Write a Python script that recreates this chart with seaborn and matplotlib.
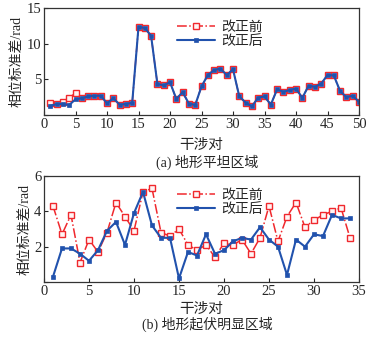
import numpy as np
import pandas as pd
import matplotlib
matplotlib.use("Agg")
import matplotlib.pyplot as plt
import seaborn as sns

# ---- data ----
pairs_a = list(range(1, 51))
before_a = [1.65, 1.6, 1.85, 2.45, 3.05, 2.35, 2.6, 2.7, 2.7, 1.65,
            2.35, 1.45, 1.55, 1.7, 12.35, 12.2, 11.1, 4.35, 4.15, 4.6,
            2.25, 3.2, 1.6, 1.4, 4.0, 5.6, 6.3, 6.5, 5.6, 6.4,
            2.6, 1.75, 1.2, 2.45, 2.6, 1.45, 3.6, 3.25, 3.5, 3.7,
            2.4, 4.1, 3.95, 4.4, 5.6, 5.55, 3.35, 2.5, 2.7, 1.85]
after_a = [1.27, 1.55, 1.55, 1.4, 2.2, 2.35, 2.6, 2.7, 2.7, 1.65,
           2.35, 1.45, 1.55, 1.7, 12.35, 12.2, 11.1, 4.35, 4.15, 4.6,
           2.25, 3.2, 1.6, 1.4, 4.0, 5.6, 6.3, 6.5, 5.6, 6.4,
           2.6, 1.75, 1.2, 2.45, 2.6, 1.45, 3.6, 3.25, 3.5, 3.7,
           2.4, 4.1, 3.95, 4.4, 5.6, 5.55, 3.35, 2.5, 2.7, 1.85]

pairs_b = list(range(1, 35))
before_b = [4.3, 2.7, 3.8, 1.1, 2.4, 1.7, 2.8, 4.5, 3.7, 2.9,
            5.1, 5.3, 2.8, 2.6, 3.0, 2.1, 1.8, 2.1, 1.4, 2.2,
            2.1, 2.4, 1.6, 2.5, 4.3, 2.3, 3.7, 4.5, 3.1, 3.5,
            3.8, 4.0, 4.2, 2.5]
after_b = [0.3, 1.9, 1.9, 1.6, 1.2, 1.8, 2.9, 3.4, 2.1, 3.9,
           5.1, 3.2, 2.5, 2.5, 0.2, 1.7, 1.5, 2.7, 1.6, 1.8,
           2.3, 2.5, 2.4, 3.1, 2.4, 2.0, 0.4, 2.4, 2.0, 2.7,
           2.6, 3.8, 3.6, 3.6]

label_before = "改正前"
label_after = "改正后"
xlabel = "干涉对"
ylabel = "相位标准差/rad"
caption_a = "(a) 地形平坦区域"
caption_b = "(b) 地形起伏明显区域"

sns.set_style("white")
plt.rcParams['font.family'] = ['Liberation Serif', 'Noto Sans CJK SC']
plt.rcParams['axes.unicode_minus'] = False

RED = "#f0282d"
BLUE = "#2152ad"

fig = plt.figure(figsize=(3.81, 3.37), dpi=100)
W, H = 381, 337

def make_ax(top_px, bottom_px):
    left, right = 44, 359
    return fig.add_axes([left / W, 1 - bottom_px / H, (right - left) / W, (bottom_px - top_px) / H])

ax1 = make_ax(8, 115)
ax2 = make_ax(176, 282)

def draw(ax, x, before, after, xlim, ylim, xticks, yticks, ytl, xlpad):
    sns.lineplot(x=x, y=before, ax=ax, color=RED, linestyle="-.", linewidth=1.1,
                 marker="s", markersize=5.0, markerfacecolor="#fff4f4",
                 markeredgecolor=RED, markeredgewidth=1.0, label=label_before)
    sns.lineplot(x=x, y=after, ax=ax, color=BLUE, linestyle="-", linewidth=1.5,
                 marker="s", markersize=3.0, markerfacecolor=BLUE,
                 markeredgecolor=BLUE, markeredgewidth=0.5, label=label_after)
    ax.set_xlim(*xlim)
    ax.set_ylim(*ylim)
    ax.set_xticks(xticks)
    ax.set_yticks(yticks)
    ax.set_yticklabels(ytl)
    ax.tick_params(direction="in", length=3, width=0.8, labelsize=10.5, pad=2,
                   bottom=True, left=True, top=False, right=False)
    for s in ax.spines.values():
        s.set_color("#333333")
        s.set_linewidth(0.9)
    ax.set_xlabel(xlabel, fontsize=10.5, labelpad=xlpad)
    ax.set_ylabel(ylabel, fontsize=10, labelpad=2)
    ax.legend(loc="upper left", bbox_to_anchor=(0.39, 0.97), frameon=False,
              fontsize=10, handlelength=2.8, handletextpad=0.4, borderpad=0.2,
              labelspacing=0.1)

draw(ax1, pairs_a, before_a, after_a, (0, 50), (0, 15),
     [0, 5, 10, 15, 20, 25, 30, 35, 40, 45, 50], [0, 5, 10, 15], ["", "5", "10", "15"], 6)
draw(ax2, pairs_b, before_b, after_b, (0, 35), (0, 6),
     [0, 5, 10, 15, 20, 25, 30, 35], [0, 2, 4, 6], ["", "2", "4", "6"], 4)

fig.text(207 / W, 1 - 162 / H, caption_a, ha="center", va="center", fontsize=10)
fig.text(207 / W, 1 - 324 / H, caption_b, ha="center", va="center", fontsize=10)

fig.savefig("out.png", dpi=100)
